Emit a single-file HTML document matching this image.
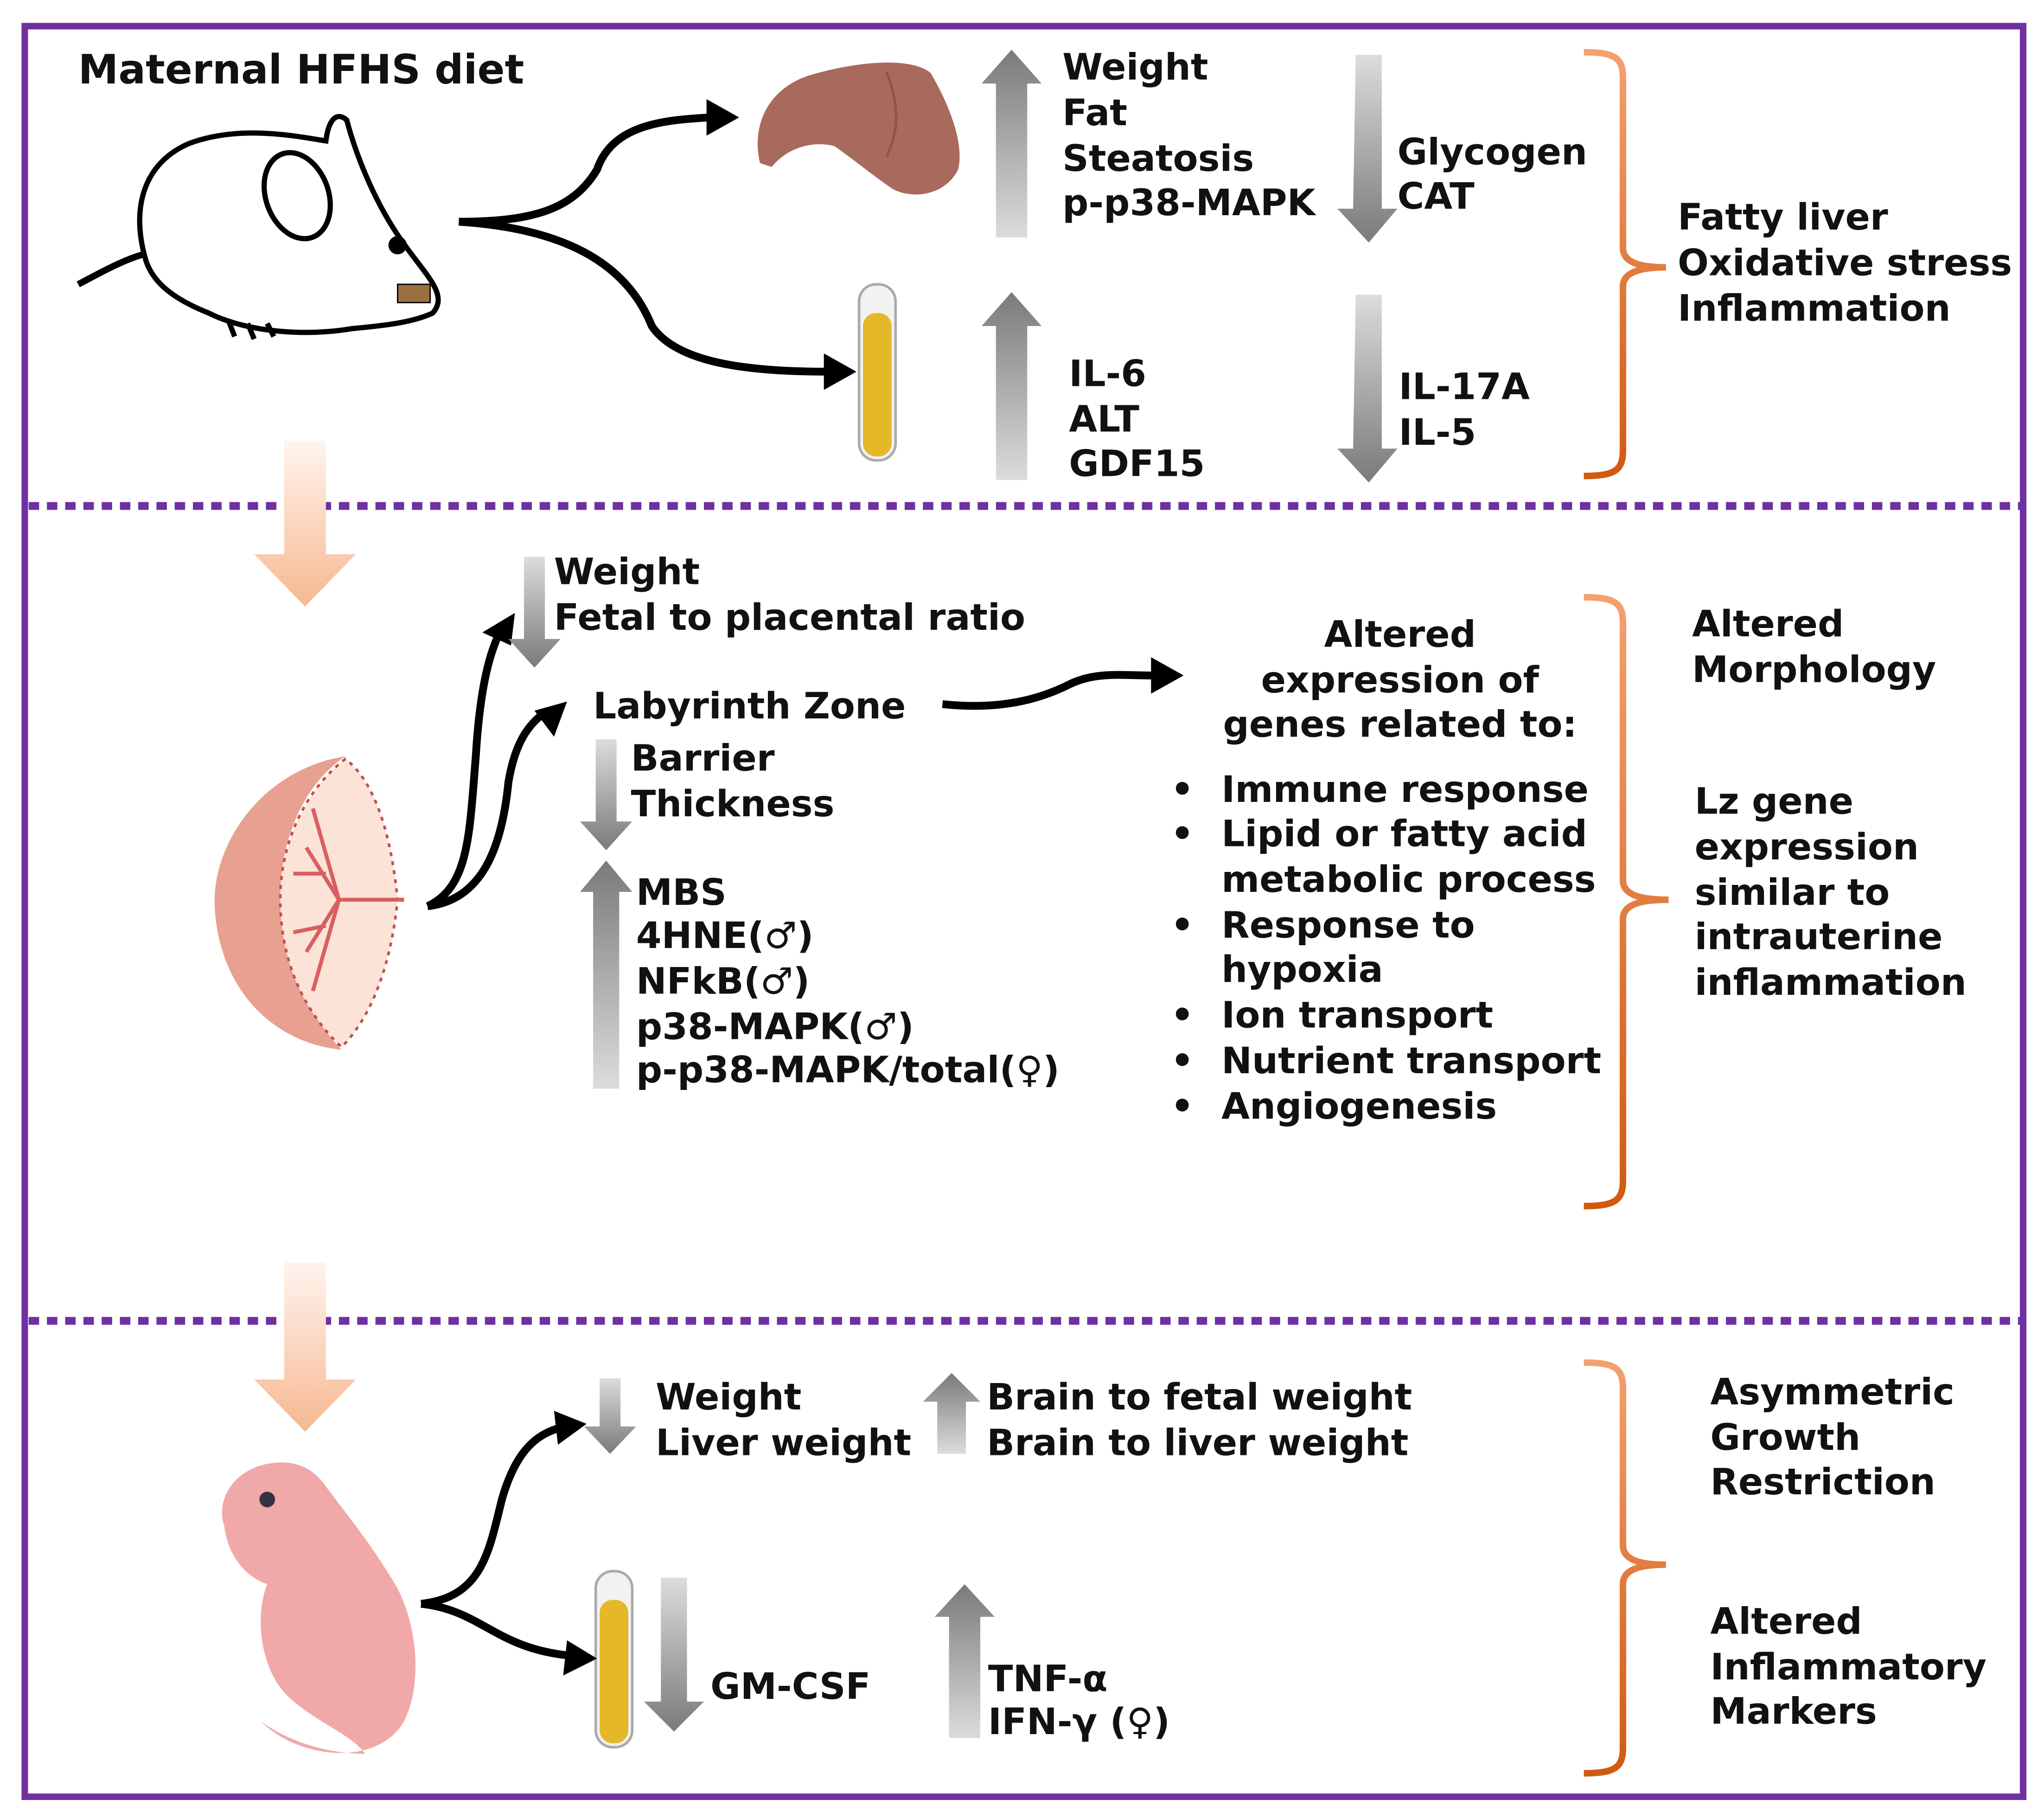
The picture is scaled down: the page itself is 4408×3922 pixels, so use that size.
<!DOCTYPE html>
<html><head><meta charset="utf-8"><style>html,body{margin:0;padding:0;background:#fff}svg{display:block}
text{font-family:"DejaVu Sans","Liberation Sans",sans-serif;font-weight:bold;font-size:28px;fill:#111}</style></head>
<body>
<svg width="4408" height="3922" viewBox="0 0 1568 1395" xmlns="http://www.w3.org/2000/svg">
<defs>
<linearGradient id="up" x1="0" y1="0" x2="0" y2="1"><stop offset="0" stop-color="#7a7a7a"/><stop offset="1" stop-color="#dcdcdc"/></linearGradient>
<linearGradient id="dn" x1="0" y1="0" x2="0" y2="1"><stop offset="0" stop-color="#dcdcdc"/><stop offset="1" stop-color="#7a7a7a"/></linearGradient>
<linearGradient id="or" x1="0" y1="0" x2="0" y2="1"><stop offset="0" stop-color="#f4a070"/><stop offset="1" stop-color="#d05a10"/></linearGradient>
<linearGradient id="pe" x1="0" y1="0" x2="0" y2="1"><stop offset="0" stop-color="#fff4ee"/><stop offset="1" stop-color="#f6b890"/></linearGradient>
</defs>
<rect x="0" y="0" width="1568" height="1395" fill="#fff"/>
<rect x="19" y="20" width="1533" height="1358" fill="none" stroke="#7030a0" stroke-width="5"/>
<line x1="22" y1="388" x2="1550" y2="388" stroke="#7030a0" stroke-width="6" stroke-dasharray="8 6"/>
<line x1="22" y1="1013" x2="1550" y2="1013" stroke="#7030a0" stroke-width="6" stroke-dasharray="8 6"/>

<!-- peach arrows -->
<polygon points="218,338 250,338 250,425 273,425 234,465 195,425 218,425" fill="url(#pe)"/>
<polygon points="218,968 250,968 250,1058 273,1058 234,1098 195,1058 218,1058" fill="url(#pe)"/>

<!-- mouse -->
<g fill="#fff" stroke="#000" stroke-width="4">
<path d="M60,218 C85,205 110,190 135,192 C140,210 150,228 170,238" fill="none" stroke-width="5"/>
<path d="M112,200 C100,160 110,125 145,110 C185,95 230,105 250,108 C252,92 258,85 266,92 C272,115 285,150 305,180 C325,210 345,225 332,240 C315,248 290,250 270,252 C235,258 190,255 160,240 C135,230 118,218 112,200 Z"/>
<ellipse cx="228" cy="150" rx="24" ry="34" transform="rotate(-20 228 150)"/>
<circle cx="305" cy="188" r="5" fill="#000"/>
<path d="M175,245 L180,258 M190,248 L195,260 M205,248 L210,258" fill="none"/>
</g>
<rect x="305" y="218" width="25" height="14" fill="#9a7040" stroke="#000" stroke-width="1"/>

<!-- liver -->
<path d="M583,125 C576,95 590,68 620,58 C660,46 700,44 714,56 C728,80 740,110 735,130 C725,150 700,153 685,145 C670,135 652,120 640,112 C625,108 605,112 592,128 Z" fill="#a86a5c"/>
<path d="M680,55 C690,80 690,100 680,120" stroke="#8e5548" stroke-width="2" fill="none"/>

<!-- tubes -->
<rect x="659" y="218" width="28" height="135" rx="13" fill="#f2f2f2" stroke="#aaa" stroke-width="2"/>
<rect x="662" y="240" width="22" height="110" rx="10" fill="#e4b828"/>
<rect x="457" y="1205" width="28" height="135" rx="13" fill="#f2f2f2" stroke="#aaa" stroke-width="2"/>
<rect x="460" y="1227" width="22" height="110" rx="10" fill="#e4b828"/>

<!-- placenta -->
<path d="M265,580 C200,590 160,650 165,700 C170,760 210,800 262,805 C230,770 215,730 215,690 C215,640 235,600 265,580 Z" fill="#e8a090"/>
<path d="M265,582 C235,605 215,645 215,690 C215,735 232,775 262,803 C285,780 300,740 305,690 C300,640 288,600 265,582 Z" fill="#fbe3d8" stroke="#c05050" stroke-width="2" stroke-dasharray="3 4"/>
<path d="M310,690 L260,690 M260,690 L235,650 M260,690 L235,730 M260,690 L240,620 M260,690 L240,760 M250,670 L225,670 M250,710 L225,715" stroke="#d86060" stroke-width="3" fill="none"/>

<!-- fetus -->
<path d="M210,1122 C180,1125 165,1150 172,1170 C175,1195 190,1210 205,1215 C195,1240 200,1280 220,1300 C240,1320 270,1330 280,1345 C250,1345 220,1335 200,1320 C230,1350 290,1355 310,1320 C325,1290 320,1240 300,1210 C285,1185 265,1160 250,1140 C240,1125 225,1120 210,1122 Z" fill="#f0a8a8"/>
<circle cx="205" cy="1150" r="6" fill="#334"/>

<!-- black arrows -->
<g fill="none" stroke="#000" stroke-width="6">
<path d="M352,170 C410,170 440,160 458,130 C470,95 510,92 545,90"/>
<path d="M352,170 C430,175 480,200 500,250 C520,280 580,285 635,285"/>
<path d="M328,695 C360,680 360,640 365,580 C368,530 375,500 385,482"/>
<path d="M328,695 C370,690 385,650 390,600 C395,570 405,555 420,545"/>
<path d="M723,540 C770,545 800,535 820,525 C840,515 860,518 885,518"/>
<path d="M323,1230 C370,1225 375,1190 385,1150 C395,1115 410,1100 430,1095"/>
<path d="M323,1230 C370,1235 380,1265 440,1270"/>
</g>
<g fill="#000">
<polygon points="567,90 542,76 542,104"/>
<polygon points="657,285 632,271 632,299"/>
<polygon points="395,470 370,485 392,495"/>
<polygon points="435,538 410,545 425,565"/>
<polygon points="908,518 883,504 883,532"/>
<polygon points="450,1092 425,1082 428,1108"/>
<polygon points="458,1272 435,1258 432,1285"/>
</g>

<!-- gray arrows -->
<g>
<polygon points="776,38 799,64 788,64 788,182 764,182 764,64 753,64" fill="url(#up)"/>
<polygon points="1040,42 1060,42 1060,160 1072,160 1050,186 1026,160 1038,160" fill="url(#dn)"/>
<polygon points="776,224 799,250 788,250 788,368 764,368 764,250 753,250" fill="url(#up)"/>
<polygon points="1040,226 1060,226 1060,344 1072,344 1050,370 1026,344 1038,344" fill="url(#dn)"/>
<polygon points="402,427 418,427 418,490 430,490 410,512 390,490 402,490" fill="url(#dn)"/>
<polygon points="457,567 473,567 473,630 485,630 465,652 445,630 457,630" fill="url(#dn)"/>
<polygon points="465,660 485,684 475,684 475,835 455,835 455,684 445,684" fill="url(#up)"/>
<polygon points="460,1057 476,1057 476,1094 488,1094 468,1115 448,1094 460,1094" fill="url(#dn)"/>
<polygon points="730,1053 752,1075 741,1075 741,1115 719,1115 719,1075 708,1075" fill="url(#up)"/>
<polygon points="507,1210 527,1210 527,1305 540,1305 517,1328 494,1305 507,1305" fill="url(#dn)"/>
<polygon points="740,1215 763,1240 752,1240 752,1333 728,1333 728,1240 717,1240" fill="url(#up)"/>
</g>

<!-- brackets -->
<g fill="none" stroke="url(#or)" stroke-width="5">
<path d="M1215,40 C1240,40 1245,45 1245,60 L1245,190 C1245,200 1255,205 1278,205 C1255,205 1245,210 1245,220 L1245,345 C1245,360 1240,365 1215,365"/>
<path d="M1215,458 C1240,458 1245,463 1245,478 L1245,675 C1245,685 1255,690 1280,690 C1255,690 1245,695 1245,705 L1245,905 C1245,920 1240,925 1215,925"/>
<path d="M1215,1045 C1240,1045 1245,1050 1245,1065 L1245,1185 C1245,1195 1255,1200 1278,1200 C1255,1200 1245,1205 1245,1215 L1245,1340 C1245,1355 1240,1360 1215,1360"/>
</g>

<!-- text -->
<text x="60" y="64" style="font-size:31px">Maternal HFHS diet</text>
<text x="815" y="61">Weight</text><text x="815" y="96">Fat</text><text x="815" y="131">Steatosis</text><text x="815" y="165">p-p38-MAPK</text>
<text x="1072" y="126">Glycogen</text><text x="1072" y="160">CAT</text>
<text x="820" y="296">IL-6</text><text x="820" y="331">ALT</text><text x="820" y="365">GDF15</text>
<text x="1073" y="306">IL-17A</text><text x="1073" y="341">IL-5</text>
<text x="1287" y="176">Fatty liver</text><text x="1287" y="211">Oxidative stress</text><text x="1287" y="246">Inflammation</text>

<text x="425" y="448">Weight</text><text x="425" y="483">Fetal to placental ratio</text>
<text x="455" y="551">Labyrinth Zone</text>
<text x="484" y="591">Barrier</text><text x="484" y="626">Thickness</text>
<text x="488" y="694">MBS</text><text x="488" y="727">4HNE(♂)</text><text x="488" y="762">NFkB(♂)</text><text x="488" y="797">p38-MAPK(♂)</text><text x="488" y="830">p-p38-MAPK/total(♀)</text>
<text x="1074" y="496" text-anchor="middle">Altered</text><text x="1074" y="531" text-anchor="middle">expression of</text><text x="1074" y="565" text-anchor="middle">genes related to:</text>
<g><text x="898" y="615">•</text><text x="898" y="649">•</text><text x="898" y="719">•</text><text x="898" y="788">•</text><text x="898" y="823">•</text><text x="898" y="858">•</text></g>
<text x="937" y="615">Immune response</text><text x="937" y="649">Lipid or fatty acid</text><text x="937" y="684">metabolic process</text><text x="937" y="719">Response to</text><text x="937" y="753">hypoxia</text><text x="937" y="788">Ion transport</text><text x="937" y="823">Nutrient transport</text><text x="937" y="858">Angiogenesis</text>
<text x="1298" y="488">Altered</text><text x="1298" y="523">Morphology</text>
<text x="1300" y="624">Lz gene</text><text x="1300" y="659">expression</text><text x="1300" y="694">similar to</text><text x="1300" y="728">intrauterine</text><text x="1300" y="763">inflammation</text>

<text x="503" y="1081">Weight</text><text x="503" y="1116">Liver weight</text>
<text x="757" y="1081">Brain to fetal weight</text><text x="757" y="1116">Brain to liver weight</text>
<text x="545" y="1303">GM-CSF</text>
<text x="758" y="1297">TNF-α</text><text x="758" y="1330">IFN-γ (♀)</text>
<text x="1312" y="1077">Asymmetric</text><text x="1312" y="1112">Growth</text><text x="1312" y="1146">Restriction</text>
<text x="1312" y="1253">Altered</text><text x="1312" y="1288">Inflammatory</text><text x="1312" y="1322">Markers</text>
</svg>
</body></html>
